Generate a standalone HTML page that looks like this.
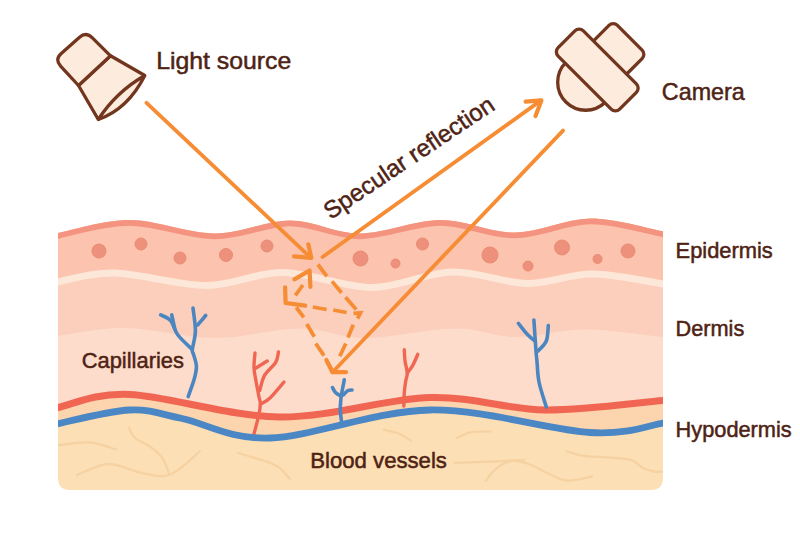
<!DOCTYPE html>
<html><head><meta charset="utf-8"><style>html,body{margin:0;padding:0;background:#fff;width:800px;height:533px;overflow:hidden}svg{display:block}</style></head>
<body>
<svg width="800" height="533" viewBox="0 0 800 533">
<defs><clipPath id="blk"><path d="M58.0,232.9 C70.0,230.8 103.8,219.9 130.0,220.0 C156.2,220.1 188.3,233.3 215.0,233.4 C241.7,233.5 265.8,220.4 290.0,220.4 C314.2,220.4 335.0,233.5 360.0,233.4 C385.0,233.3 414.2,220.2 440.0,220.0 C465.8,219.8 490.0,232.8 515.0,232.5 C540.0,232.2 565.3,218.7 590.0,218.5 C614.7,218.3 650.8,229.2 663.0,231.3 L663,478 Q663,490 651,490 L70,490 Q58,490 58,478 Z"/></clipPath></defs>
<rect width="800" height="533" fill="#FFFFFF"/>
<g clip-path="url(#blk)">
<rect x="50" y="200" width="630" height="300" fill="#FDDFB5"/>
<path d="M40.0,240.0 C43.0,238.8 43.0,236.2 58.0,232.9 C73.0,229.6 103.8,219.9 130.0,220.0 C156.2,220.1 188.3,233.3 215.0,233.4 C241.7,233.5 265.8,220.4 290.0,220.4 C314.2,220.4 335.0,233.5 360.0,233.4 C385.0,233.3 414.2,220.2 440.0,220.0 C465.8,219.8 490.0,232.8 515.0,232.5 C540.0,232.2 565.3,218.7 590.0,218.5 C614.7,218.3 648.0,228.4 663.0,231.3 C678.0,234.2 677.2,235.2 680.0,236.0 L680,400 C677.2,400.1 685.5,398.8 663.0,400.5 C640.5,402.2 583.8,410.5 545.0,410.0 C506.2,409.5 474.2,396.3 430.0,397.5 C385.8,398.7 330.0,417.5 280.0,417.0 C230.0,416.5 167.0,396.1 130.0,394.5 C93.0,392.9 73.0,404.4 58.0,407.5 C43.0,410.6 43.0,412.1 40.0,413.0 Z" fill="#FDDCCB"/>
<path d="M40.0,240.0 C43.0,238.8 43.0,236.2 58.0,232.9 C73.0,229.6 103.8,219.9 130.0,220.0 C156.2,220.1 188.3,233.3 215.0,233.4 C241.7,233.5 265.8,220.4 290.0,220.4 C314.2,220.4 335.0,233.5 360.0,233.4 C385.0,233.3 414.2,220.2 440.0,220.0 C465.8,219.8 490.0,232.8 515.0,232.5 C540.0,232.2 565.3,218.7 590.0,218.5 C614.7,218.3 648.0,228.4 663.0,231.3 C678.0,234.2 677.2,235.2 680.0,236.0 L680,339 C677.2,338.7 678.8,338.6 663.0,337.0 C647.2,335.4 609.7,329.5 585.0,329.5 C560.3,329.5 536.7,337.2 515.0,337.0 C493.3,336.8 480.0,328.3 455.0,328.5 C430.0,328.7 390.8,338.0 365.0,338.0 C339.2,338.0 325.0,328.5 300.0,328.5 C275.0,328.5 244.2,338.1 215.0,338.0 C185.8,337.9 151.2,328.3 125.0,328.0 C98.8,327.7 72.2,334.0 58.0,336.0 C43.8,338.0 43.0,339.3 40.0,340.0 Z" fill="#FCCEBC"/>
<path d="M40.0,413.0 C43.0,412.1 43.0,410.6 58.0,407.5 C73.0,404.4 93.0,392.9 130.0,394.5 C167.0,396.1 230.0,416.5 280.0,417.0 C330.0,417.5 385.8,398.7 430.0,397.5 C474.2,396.3 506.2,409.5 545.0,410.0 C583.8,410.5 640.5,402.2 663.0,400.5 C685.5,398.8 677.2,400.1 680.0,400.0 L680,418 C677.2,418.8 678.0,420.6 663.0,423.0 C648.0,425.4 628.8,434.7 590.0,432.5 C551.2,430.3 483.3,409.1 430.0,410.0 C376.7,410.9 311.3,436.6 270.0,438.0 C228.7,439.4 205.3,423.2 182.0,418.5 C158.7,413.8 150.7,409.1 130.0,410.0 C109.3,410.9 73.0,420.4 58.0,423.8 C43.0,427.1 43.0,429.0 40.0,430.0 Z" fill="#FCD5AE"/>
<path d="M40.0,240.0 C43.0,238.8 43.0,236.2 58.0,232.9 C73.0,229.6 103.8,219.9 130.0,220.0 C156.2,220.1 188.3,233.3 215.0,233.4 C241.7,233.5 265.8,220.4 290.0,220.4 C314.2,220.4 335.0,233.5 360.0,233.4 C385.0,233.3 414.2,220.2 440.0,220.0 C465.8,219.8 490.0,232.8 515.0,232.5 C540.0,232.2 565.3,218.7 590.0,218.5 C614.7,218.3 648.0,228.4 663.0,231.3 C678.0,234.2 677.2,235.2 680.0,236.0 L680,288 C677.2,287.3 677.7,286.3 663.0,284.0 C648.3,281.7 614.7,274.1 592.0,274.0 C569.3,273.9 550.3,283.8 527.0,283.5 C503.7,283.2 477.8,271.3 452.0,272.0 C426.2,272.7 400.2,287.4 372.0,287.5 C343.8,287.6 310.5,272.8 283.0,272.5 C255.5,272.2 235.0,285.4 207.0,285.5 C179.0,285.6 139.8,273.6 115.0,273.0 C90.2,272.4 70.5,279.2 58.0,282.0 C45.5,284.8 43.0,288.7 40.0,290.0 Z" fill="#FCC4AE"/>
<path d="M40.0,290.0 C43.0,288.7 45.5,284.8 58.0,282.0 C70.5,279.2 90.2,272.4 115.0,273.0 C139.8,273.6 179.0,285.6 207.0,285.5 C235.0,285.4 255.5,272.2 283.0,272.5 C310.5,272.8 343.8,287.6 372.0,287.5 C400.2,287.4 426.2,272.7 452.0,272.0 C477.8,271.3 503.7,283.2 527.0,283.5 C550.3,283.8 569.3,273.9 592.0,274.0 C614.7,274.1 648.3,281.7 663.0,284.0 C677.7,286.3 677.2,287.3 680.0,288.0" stroke="#FCE7D9" stroke-width="7" fill="none"/>
<path d="M40.0,240.0 C43.0,238.8 43.0,236.2 58.0,232.9 C73.0,229.6 103.8,219.9 130.0,220.0 C156.2,220.1 188.3,233.3 215.0,233.4 C241.7,233.5 265.8,220.4 290.0,220.4 C314.2,220.4 335.0,233.5 360.0,233.4 C385.0,233.3 414.2,220.2 440.0,220.0 C465.8,219.8 490.0,232.8 515.0,232.5 C540.0,232.2 565.3,218.7 590.0,218.5 C614.7,218.3 648.0,228.4 663.0,231.3 C678.0,234.2 677.2,235.2 680.0,236.0" stroke="#F4937F" stroke-width="11.5" fill="none"/>
<circle cx="99" cy="251" r="7" fill="#EE917C" stroke="#EA8A74" stroke-width="1"/>
<circle cx="141" cy="244" r="6" fill="#EE917C" stroke="#EA8A74" stroke-width="1"/>
<circle cx="180" cy="258" r="6" fill="#EE917C" stroke="#EA8A74" stroke-width="1"/>
<circle cx="226" cy="255" r="6.5" fill="#EE917C" stroke="#EA8A74" stroke-width="1"/>
<circle cx="267" cy="246" r="6" fill="#EE917C" stroke="#EA8A74" stroke-width="1"/>
<circle cx="360.5" cy="258.5" r="7.5" fill="#EE917C" stroke="#EA8A74" stroke-width="1"/>
<circle cx="395.5" cy="263.5" r="4.5" fill="#EE917C" stroke="#EA8A74" stroke-width="1"/>
<circle cx="422.5" cy="244" r="6" fill="#EE917C" stroke="#EA8A74" stroke-width="1"/>
<circle cx="490" cy="255" r="8" fill="#EE917C" stroke="#EA8A74" stroke-width="1"/>
<circle cx="528" cy="266" r="5" fill="#EE917C" stroke="#EA8A74" stroke-width="1"/>
<circle cx="562" cy="247.5" r="7.5" fill="#EE917C" stroke="#EA8A74" stroke-width="1"/>
<circle cx="597.5" cy="259" r="4.5" fill="#EE917C" stroke="#EA8A74" stroke-width="1"/>
<circle cx="628" cy="251" r="7" fill="#EE917C" stroke="#EA8A74" stroke-width="1"/>
<path d="M59.0,445.0 C64.2,444.6 80.5,441.8 90.0,442.5 C99.5,443.2 111.7,448.3 116.0,449.5" stroke="#F6D2A2" stroke-width="2.3" fill="none" stroke-linecap="round" stroke-linejoin="round"/>
<path d="M129.0,428.0 C130.0,429.7 131.7,435.0 135.0,438.0 C138.3,441.0 144.7,443.0 149.0,446.0 C153.3,449.0 158.0,452.3 161.0,456.0 C164.0,459.7 165.7,465.0 167.0,468.0 C168.3,471.0 168.7,473.0 169.0,474.0" stroke="#F6D2A2" stroke-width="2.3" fill="none" stroke-linecap="round" stroke-linejoin="round"/>
<path d="M77.0,475.0 C82.2,473.2 97.5,464.4 108.0,464.0 C118.5,463.6 130.5,470.5 140.0,472.5 C149.5,474.5 158.0,476.9 165.0,476.0 C172.0,475.1 176.2,471.2 182.0,467.0 C187.8,462.8 197.0,453.7 200.0,451.0" stroke="#F6D2A2" stroke-width="2.3" fill="none" stroke-linecap="round" stroke-linejoin="round"/>
<path d="M238.0,453.0 C241.8,454.1 254.3,457.5 261.0,459.8 C267.7,462.1 273.2,463.5 278.0,466.7 C282.8,469.9 288.0,476.9 290.0,479.0" stroke="#F6D2A2" stroke-width="2.3" fill="none" stroke-linecap="round" stroke-linejoin="round"/>
<path d="M383.6,429.6 C386.2,430.3 394.4,431.9 399.0,433.7 C403.6,435.5 409.0,439.5 411.0,440.6" stroke="#F6D2A2" stroke-width="2.3" fill="none" stroke-linecap="round" stroke-linejoin="round"/>
<path d="M456.8,438.0 C459.1,437.1 464.7,433.5 470.3,432.4 C475.9,431.3 487.1,431.5 490.5,431.3" stroke="#F6D2A2" stroke-width="2.3" fill="none" stroke-linecap="round" stroke-linejoin="round"/>
<path d="M454.5,462.8 C461.2,462.6 485.2,461.9 495.0,461.5 C504.8,461.1 507.3,460.1 513.0,460.5 C518.7,460.9 523.3,461.9 529.0,464.0 C534.7,466.1 540.7,470.2 547.0,473.0 C553.3,475.8 559.5,479.9 567.0,480.5 C574.5,481.1 587.8,477.2 592.0,476.5" stroke="#F6D2A2" stroke-width="2.3" fill="none" stroke-linecap="round" stroke-linejoin="round"/>
<path d="M486.0,480.8 C487.5,478.9 491.2,472.7 495.0,469.5 C498.8,466.3 503.7,463.3 508.5,461.7 C513.3,460.1 521.4,460.3 524.0,460.0" stroke="#F6D2A2" stroke-width="2.3" fill="none" stroke-linecap="round" stroke-linejoin="round"/>
<path d="M567.0,451.5 C570.0,452.2 578.2,455.0 585.0,456.0 C591.8,457.0 600.3,456.8 608.0,457.5 C615.7,458.2 625.2,458.2 631.0,460.0 C636.8,461.8 639.2,466.1 643.0,468.0 C646.8,469.9 650.8,470.9 654.0,471.5 C657.2,472.1 660.7,471.5 662.0,471.5" stroke="#F6D2A2" stroke-width="2.3" fill="none" stroke-linecap="round" stroke-linejoin="round"/>
<path d="M254.0,433.8 C254.8,430.7 257.8,420.0 258.8,415.0 C259.9,410.0 260.3,407.0 260.3,403.8 C260.3,400.6 259.5,399.8 258.8,396.0 C258.1,392.2 256.8,385.7 256.0,381.0 C255.2,376.3 254.2,372.7 254.0,368.0 C253.8,363.3 254.8,355.5 255.0,353.0" stroke="#EF6753" stroke-width="3.4" fill="none" stroke-linecap="round" stroke-linejoin="round"/>
<path d="M261.0,404.0 C262.5,403.0 266.2,401.7 270.0,398.0 C273.8,394.3 281.7,384.7 284.0,382.0" stroke="#EF6753" stroke-width="3.4" fill="none" stroke-linecap="round" stroke-linejoin="round"/>
<path d="M259.7,390.6 C260.5,388.1 261.8,380.3 264.4,375.6 C267.0,370.9 273.2,366.4 275.6,362.5 C278.0,358.6 278.0,353.8 278.5,352.0" stroke="#EF6753" stroke-width="3.4" fill="none" stroke-linecap="round" stroke-linejoin="round"/>
<path d="M256.0,368.0 C257.9,366.8 265.3,362.2 267.2,361.0" stroke="#EF6753" stroke-width="3.4" fill="none" stroke-linecap="round" stroke-linejoin="round"/>
<path d="M403.8,406.0 C403.9,403.8 404.0,396.8 404.3,392.6 C404.6,388.4 405.3,383.9 405.8,380.6 C406.3,377.3 407.4,376.3 407.3,373.0 C407.2,369.7 405.5,364.9 405.0,361.0 C404.5,357.1 404.4,351.7 404.3,349.8" stroke="#EF6753" stroke-width="3.4" fill="none" stroke-linecap="round" stroke-linejoin="round"/>
<path d="M407.3,373.0 C408.2,371.8 410.9,368.7 412.6,365.6 C414.4,362.5 416.9,356.2 417.8,354.3" stroke="#EF6753" stroke-width="3.4" fill="none" stroke-linecap="round" stroke-linejoin="round"/>
<path d="M40.0,413.0 C43.0,412.1 43.0,410.6 58.0,407.5 C73.0,404.4 93.0,392.9 130.0,394.5 C167.0,396.1 230.0,416.5 280.0,417.0 C330.0,417.5 385.8,398.7 430.0,397.5 C474.2,396.3 506.2,409.5 545.0,410.0 C583.8,410.5 640.5,402.2 663.0,400.5 C685.5,398.8 677.2,400.1 680.0,400.0" stroke="#F06652" stroke-width="7" fill="none"/>
<path d="M188.2,396.6 C189.2,393.6 193.0,383.5 194.4,378.4 C195.8,373.3 196.6,370.1 196.4,366.0 C196.2,361.9 194.0,356.4 193.3,353.7 C192.6,350.9 192.0,353.3 192.3,349.5 C192.7,345.7 195.3,337.9 195.4,331.0 C195.5,324.1 193.4,311.8 193.0,308.0" stroke="#4C86C0" stroke-width="3.6" fill="none" stroke-linecap="round" stroke-linejoin="round"/>
<path d="M197.9,324.8 C199.2,323.2 204.4,317.1 205.7,315.5" stroke="#4C86C0" stroke-width="3.6" fill="none" stroke-linecap="round" stroke-linejoin="round"/>
<path d="M192.3,349.5 C189.9,347.1 181.5,339.8 177.9,335.0 C174.3,330.2 173.5,324.0 170.6,320.6 C167.7,317.2 162.3,315.8 160.7,314.9" stroke="#4C86C0" stroke-width="3.6" fill="none" stroke-linecap="round" stroke-linejoin="round"/>
<path d="M174.8,329.0 C174.3,326.6 172.2,317.2 171.7,314.9" stroke="#4C86C0" stroke-width="3.6" fill="none" stroke-linecap="round" stroke-linejoin="round"/>
<path d="M341.7,423.0 C341.5,420.8 340.4,414.2 340.3,410.0 C340.2,405.8 340.7,401.3 341.0,398.0 C341.3,394.7 341.8,393.1 342.3,390.0 C342.9,386.9 344.0,381.4 344.3,379.7" stroke="#4C86C0" stroke-width="3.6" fill="none" stroke-linecap="round" stroke-linejoin="round"/>
<path d="M341.0,396.0 C340.1,395.5 337.1,394.2 335.7,392.8 C334.3,391.4 333.0,388.5 332.5,387.6" stroke="#4C86C0" stroke-width="3.6" fill="none" stroke-linecap="round" stroke-linejoin="round"/>
<path d="M343.6,394.8 C344.3,394.1 346.2,391.6 347.6,390.8 C349.0,390.0 351.3,390.1 352.0,390.0" stroke="#4C86C0" stroke-width="3.6" fill="none" stroke-linecap="round" stroke-linejoin="round"/>
<path d="M546.3,407.0 C545.1,402.8 540.5,389.6 539.0,382.0 C537.5,374.4 537.5,366.8 537.0,361.6 C536.5,356.4 536.5,357.9 536.0,351.0 C535.5,344.1 534.2,325.2 533.9,320.0" stroke="#4C86C0" stroke-width="3.6" fill="none" stroke-linecap="round" stroke-linejoin="round"/>
<path d="M518.4,323.4 C520.0,325.3 524.9,331.9 527.7,334.8 C530.5,337.7 533.8,340.0 535.0,341.0" stroke="#4C86C0" stroke-width="3.6" fill="none" stroke-linecap="round" stroke-linejoin="round"/>
<path d="M548.3,325.5 C548.0,328.1 548.0,336.8 546.3,341.0 C544.6,345.2 539.4,349.3 538.0,351.0" stroke="#4C86C0" stroke-width="3.6" fill="none" stroke-linecap="round" stroke-linejoin="round"/>
<path d="M40.0,430.0 C43.0,429.0 43.0,427.1 58.0,423.8 C73.0,420.4 109.3,410.9 130.0,410.0 C150.7,409.1 158.7,413.8 182.0,418.5 C205.3,423.2 228.7,439.4 270.0,438.0 C311.3,436.6 376.7,410.9 430.0,410.0 C483.3,409.1 551.2,430.3 590.0,432.5 C628.8,434.7 648.0,425.4 663.0,423.0 C678.0,420.6 677.2,418.8 680.0,418.0" stroke="#4A87C4" stroke-width="6.8" fill="none"/>
</g>
<line x1="146.5" y1="102.8" x2="311" y2="258" stroke="#F68D35" stroke-width="3.8" stroke-linecap="round"/>
<path d="M308.3,244.3 L311.3,257.8 L294,256.3" stroke="#F68D35" stroke-width="4.2" fill="none" stroke-linecap="round" stroke-linejoin="round"/>
<line x1="322.5" y1="257" x2="541" y2="100.4" stroke="#F68D35" stroke-width="3.8" stroke-linecap="round"/>
<path d="M525.6,101.7 L541.4,100.4 L535.5,116" stroke="#F68D35" stroke-width="4.2" fill="none" stroke-linecap="round" stroke-linejoin="round"/>
<line x1="563" y1="130.6" x2="332.5" y2="372.2" stroke="#F68D35" stroke-width="3.8" stroke-linecap="round"/>
<path d="M326.4,360 L332.5,372.2 L346,372.2" stroke="#F68D35" stroke-width="4.2" fill="none" stroke-linecap="round" stroke-linejoin="round"/>
<path d="M317.9,264.5 L326.9,276.3" stroke="#F68D35" stroke-width="3.8" fill="none" stroke-linejoin="miter"/>
<path d="M332,281.4 L341.5,292.7" stroke="#F68D35" stroke-width="3.8" fill="none" stroke-linejoin="miter"/>
<path d="M345.5,297.2 L356.2,309.5" stroke="#F68D35" stroke-width="3.8" fill="none" stroke-linejoin="miter"/>
<path d="M312.8,307 L326.6,309.5" stroke="#F68D35" stroke-width="3.8" fill="none" stroke-linejoin="miter"/>
<path d="M333.3,310 L346.6,312.5" stroke="#F68D35" stroke-width="3.8" fill="none" stroke-linejoin="miter"/>
<path d="M353.5,313.3 L360.5,312.8 L357.5,318.5" stroke="#F68D35" stroke-width="3.8" fill="none" stroke-linejoin="miter"/>
<path d="M353.3,324.8 L348,337.5" stroke="#F68D35" stroke-width="3.8" fill="none" stroke-linejoin="miter"/>
<path d="M345.8,343.5 L339.8,356.3" stroke="#F68D35" stroke-width="3.8" fill="none" stroke-linejoin="miter"/>
<path d="M296.3,307.5 L303.8,317.3" stroke="#F68D35" stroke-width="3.8" fill="none" stroke-linejoin="miter"/>
<path d="M306.8,324 L314.3,336.8" stroke="#F68D35" stroke-width="3.8" fill="none" stroke-linejoin="miter"/>
<path d="M315.8,343.5 L324,355.6" stroke="#F68D35" stroke-width="3.8" fill="none" stroke-linejoin="miter"/>
<path d="M327,361.6 L332.5,371" stroke="#F68D35" stroke-width="3.8" fill="none" stroke-linejoin="miter"/>
<path d="M295.4,295.3 L302.9,285" stroke="#F68D35" stroke-width="3.8" fill="none" stroke-linejoin="miter"/>
<path d="M294.4,279.4 L309.6,270.5 L310.4,286.9" stroke="#F68D35" stroke-width="4.2" fill="none" stroke-linecap="round" stroke-linejoin="round"/>
<path d="M285.1,287.3 L285.6,303 L305.2,305.6" stroke="#F68D35" stroke-width="4.2" fill="none" stroke-linecap="round" stroke-linejoin="round"/>
<g fill="#FDEBDD" stroke="#72361F" stroke-width="3.3" stroke-linejoin="round">
<path d="M78.5,85.5 L98.3,119.5 Q128,109 144.8,75.5 L110.5,55.8 Z"/>
<path d="M98.3,119.5 Q116,92 144.8,75.5" fill="none"/>
<path d="M78.50,85.50 L60.60,66.11 Q54.50,59.50 61.23,53.52 L79.27,37.48 Q86.00,31.50 92.39,37.84 L110.50,55.80 Z"/>
</g>
<g transform="translate(597,69.5) rotate(45)" fill="#FDEBDD" stroke="#72361F" stroke-width="3.3" stroke-linejoin="round">
<path d="M-27,17 A28,28 0 0 0 29,17 Z"/>
<rect x="-22.7" y="-45.6" width="46.9" height="38" rx="6"/>
<rect x="-43" y="-17.7" width="87" height="35.7" rx="6"/>
</g>
<g font-family="Liberation Sans, sans-serif" fill="#4E2314" stroke="#4E2314" stroke-width="0.5">
<text x="156.22" y="68.65" font-size="24.00" textLength="135.07" lengthAdjust="spacingAndGlyphs">Light source</text>
<text x="661.83" y="100.30" font-size="24.40" textLength="82.91" lengthAdjust="spacingAndGlyphs">Camera</text>
<text x="675.55" y="257.80" font-size="22.10" textLength="97.24" lengthAdjust="spacingAndGlyphs">Epidermis</text>
<text x="675.56" y="335.70" font-size="22.10" textLength="68.74" lengthAdjust="spacingAndGlyphs">Dermis</text>
<text x="675.56" y="436.70" font-size="22.10" textLength="116.20" lengthAdjust="spacingAndGlyphs">Hypodermis</text>
<text x="81.71" y="367.60" font-size="22.80" textLength="102.24" lengthAdjust="spacingAndGlyphs">Capillaries</text>
<text x="310.23" y="467.60" font-size="21.80" textLength="136.75" lengthAdjust="spacingAndGlyphs">Blood vessels</text>
<g transform="translate(331.4,219.3) rotate(-33.85)"><text x="-1.09" y="0.00" font-size="24.00" textLength="199.72" lengthAdjust="spacingAndGlyphs">Specular reflection</text></g>
</g>
</svg>
</body></html>
